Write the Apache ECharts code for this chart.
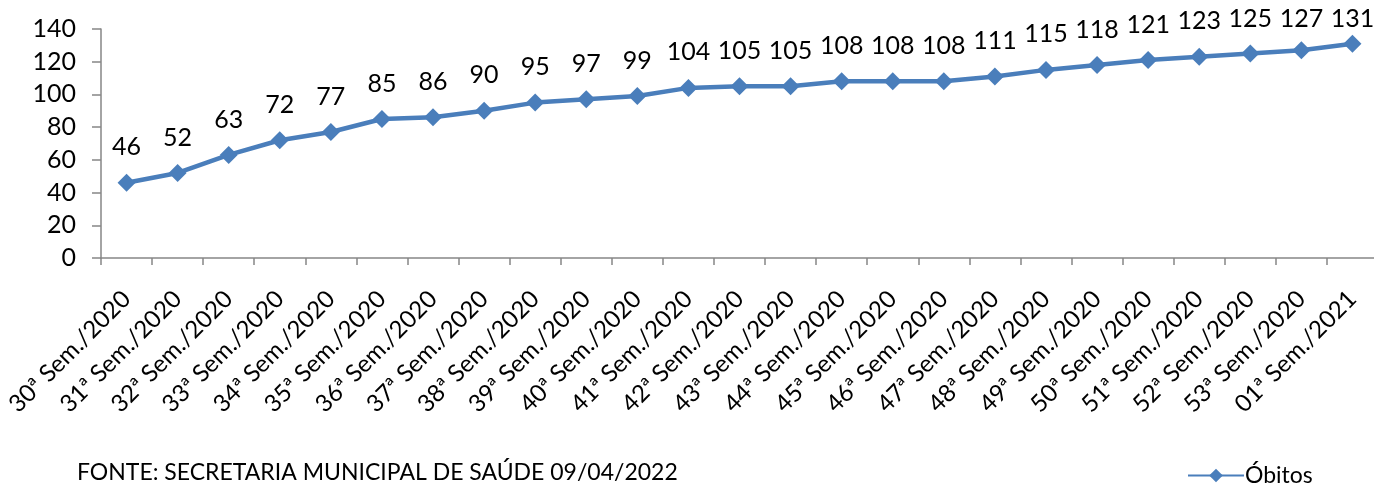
<!DOCTYPE html>
<html><head><meta charset="utf-8">
<script src="https://cdn.jsdelivr.net/npm/echarts@6/dist/echarts.min.js"></script>
<style>html,body{margin:0;padding:0;background:#fff;overflow:hidden}#c{width:1380px;height:489px}</style>
</head><body><div id="c"></div>
<script>
const categories = ["30ª Sem./2020","31ª Sem./2020","32ª Sem./2020","33ª Sem./2020","34ª Sem./2020","35ª Sem./2020","36ª Sem./2020","37ª Sem./2020","38ª Sem./2020","39ª Sem./2020","40ª Sem./2020","41ª Sem./2020","42ª Sem./2020","43ª Sem./2020","44ª Sem./2020","45ª Sem./2020","46ª Sem./2020","47ª Sem./2020","48ª Sem./2020","49ª Sem./2020","50ª Sem./2020","51ª Sem./2020","52ª Sem./2020","53ª Sem./2020","01ª Sem./2021"];
const obitos = [46,52,63,72,77,85,86,90,95,97,99,104,105,105,108,108,108,111,115,118,121,123,125,127,131];
const seriesName = "Óbitos";
const sourceText = "FONTE: SECRETARIA MUNICIPAL DE SAÚDE 09/04/2022";

const FONT = "Lato";
const chart = echarts.init(document.getElementById('c'));
chart.setOption({
  animation: false,
  textStyle: {fontFamily: FONT},
  grid: {left: 101, right: 2, top: 29, bottom: 231, containLabel: false},
  title: {text: sourceText, left: 72, top: 456, textStyle: {fontFamily: FONT, fontSize: 23, fontWeight: 'normal', color: '#000'}},
  legend: {
    data: [seriesName], left: 1182, top: 459, itemWidth: 56, itemHeight: 17, itemGap: 4,
    textStyle: {fontFamily: FONT, fontSize: 23, color: '#000', padding: [0,0,0,-4]}
  },
  xAxis: {
    type: 'category', data: categories, boundaryGap: true,
    axisLine: {lineStyle: {color: '#868686', width: 1.5}},
    axisTick: {show: true, length: 7, alignWithLabel: false, lineStyle: {color: '#868686', width: 1.5}},
    axisLabel: {interval: 0, rotate: 45, fontSize: 24, color: '#000', fontFamily: FONT, margin: 37}
  },
  yAxis: {
    type: 'value', min: 0, max: 140, interval: 20,
    splitLine: {show: false},
    axisLine: {show: true, lineStyle: {color: '#868686', width: 1.5}},
    axisTick: {show: true, length: 9, lineStyle: {color: '#868686', width: 1.5}},
    axisLabel: {fontSize: 25, color: '#000', fontFamily: FONT, margin: 25}
  },
  series: [{
    name: seriesName, type: 'line', data: obitos,
    symbol: 'diamond', symbolSize: 18,
    lineStyle: {color: '#4A7EBB', width: 4.5},
    itemStyle: {color: '#4A7EBB'},
    label: {show: true, position: 'top', distance: 14, fontSize: 25, color: '#000', fontFamily: FONT},
    labelLayout: function (p) {
      const r = p.labelRect;
      if (r.y < 6) { return {dy: 6 - r.y}; }
      return {};
    }
  }]
});
</script></body></html>
